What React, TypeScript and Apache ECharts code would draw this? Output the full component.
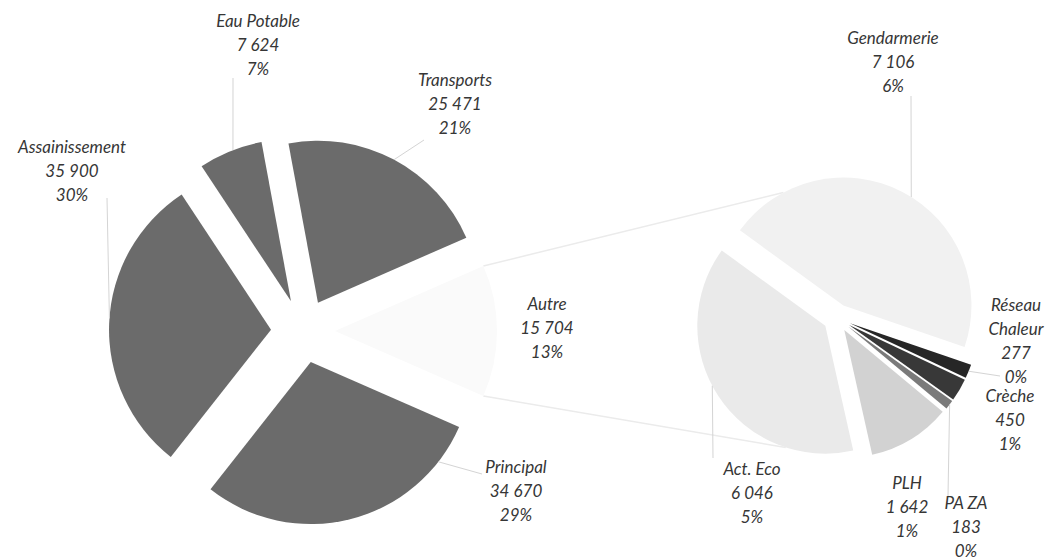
import React, { useEffect, useRef } from 'react';
import * as echarts from 'echarts';

// Main pie (clockwise from the "Autre" slice, which is centred on 3 o'clock)
const mainNames = ['Autre', 'Principal', 'Assainissement', 'Eau Potable', 'Transports'];
const mainValues = [15704, 34670, 35900, 7624, 25471];
const mainPct = [13, 29, 30, 7, 21];

// Secondary pie (breakdown of "Autre"), clockwise from Gendarmerie
const subNames = ['Gendarmerie', 'Réseau Chaleur', 'Crèche', 'PA ZA', 'PLH', 'Act. Eco'];
const subValues = [7106, 277, 450, 183, 1642, 6046];
const subPct = [6, 0, 1, 0, 1, 5];

const mainColors = ['#fafafa', '#6b6b6b', '#6b6b6b', '#6b6b6b', '#6b6b6b'];
const subColors = ['#f1f1f1', '#262626', '#383838', '#7a7a7a', '#d2d2d2', '#eaeaea'];

// label layout: centre of the text block, and where the leader meets the slice (deg, or null)
const mainLabelPos = [[547, 327], [516, 490], [72, 170], [258, 44], [455, 103]];
const mainLeader: (null | { at: number[]; angle: number })[] = [
  null,
  { at: [482, 474], angle: -38 },
  { at: [107, 198], angle: 176 },
  { at: [233, 78], angle: 111 },
  { at: [424, 140], angle: 62 },
];
const subLabelPos = [[893, 61], [1016, 340], [1010, 419], [966, 526], [907, 506], [752, 492]];
const subLeader: (null | { at: number[]; angle: number })[] = [
  { at: [911, 96], angle: 58 },
  { at: [1000, 376], angle: -22 },
  null,
  { at: [948, 496], angle: -37.5 },
  null,
  { at: [713, 458], angle: 208 },
];

const MAIN_C = [303, 331];
const MAIN_R = 162;
const MAIN_EXPLODE = 32;
const SUB_C = [837, 318];
const SUB_R = 128;
const SUB_EXPLODE = 14;
const SUB_START = 144;

const fmt = (v: number) => String(v).replace(/\B(?=(\d{3})+(?!\d))/g, ' ');

const FONT = 'italic 17px Lato, "Open Sans", sans-serif';
const LINE_H = 24;
const TEXT_COLOR = '#363636';
const LEADER_COLOR = '#d4d4d4';

// mid angle (deg, math convention) of each slice, as the pie series lays them out clockwise
function midAngles(values: number[], start: number) {
  const sum = values.reduce((a, b) => a + b, 0);
  let acc = 0;
  return values.map((v) => {
    const mid = start - ((acc + v / 2) / sum) * 360;
    acc += v;
    return mid;
  });
}

function arcPoint(c: number[], r: number, explode: number, mid: number, angle: number) {
  const m = (mid * Math.PI) / 180;
  const a = (angle * Math.PI) / 180;
  const tx = c[0] + explode * Math.cos(m);
  const ty = c[1] - explode * Math.sin(m);
  return [tx + r * Math.cos(a), ty - r * Math.sin(a)];
}

export default function App() {
  const ref = useRef<HTMLDivElement>(null);

  useEffect(() => {
    if (!ref.current) return;
    const chart = echarts.init(ref.current, undefined, { renderer: 'svg' });

    const total = mainValues.reduce((a, b) => a + b, 0);
    const autreHalf = (mainValues[0] / total) * 180;
    const mainStart = autreHalf;
    const mainMids = midAngles(mainValues, mainStart);
    const subMids = midAngles(subValues, SUB_START);

    // connector lines from the exploded "Autre" slice to the secondary pie
    const topCorner = arcPoint(MAIN_C, MAIN_R, MAIN_EXPLODE, 0, autreHalf);
    const botCorner = arcPoint(MAIN_C, MAIN_R, MAIN_EXPLODE, 0, -autreHalf);
    const subTop = arcPoint(SUB_C, SUB_R, SUB_EXPLODE, subMids[0], 118);
    const subBot = arcPoint(SUB_C, SUB_R, SUB_EXPLODE, subMids[5], 252);

    const graphics: any[] = [
      {
        type: 'line',
        z: -1,
        shape: { x1: topCorner[0], y1: topCorner[1], x2: subTop[0], y2: subTop[1] },
        style: { stroke: '#ebebeb', lineWidth: 1.5 },
      },
      {
        type: 'line',
        z: -1,
        shape: { x1: botCorner[0], y1: botCorner[1], x2: subBot[0], y2: subBot[1] },
        style: { stroke: '#ebebeb', lineWidth: 1.5 },
      },
    ];

    const addLabels = (
      names: string[],
      values: number[],
      pct: number[],
      pos: number[][],
      leaders: (null | { at: number[]; angle: number })[],
      mids: number[],
      c: number[],
      r: number,
      explode: number
    ) => {
      names.forEach((n, i) => {
        const name = n === 'Réseau Chaleur' ? 'Réseau\nChaleur' : n;
        graphics.push({
          type: 'text',
          z: 10,
          x: pos[i][0],
          y: pos[i][1],
          style: {
            text: `${name}\n${fmt(values[i])}\n${pct[i]}%`,
            font: FONT,
            lineHeight: LINE_H,
            fill: TEXT_COLOR,
            align: 'center',
            verticalAlign: 'middle',
          },
        });
        const L = leaders[i];
        if (L) {
          const p = arcPoint(c, r, explode, mids[i], L.angle);
          graphics.push({
            type: 'line',
            z: 5,
            shape: { x1: p[0], y1: p[1], x2: L.at[0], y2: L.at[1] },
            style: { stroke: LEADER_COLOR, lineWidth: 1 },
          });
        }
      });
    };

    addLabels(mainNames, mainValues, mainPct, mainLabelPos, mainLeader, mainMids, MAIN_C, MAIN_R, MAIN_EXPLODE);
    addLabels(subNames, subValues, subPct, subLabelPos, subLeader, subMids, SUB_C, SUB_R, SUB_EXPLODE);

    const mkData = (names: string[], values: number[], colors: string[]) =>
      names.map((n, i) => ({
        name: n,
        value: values[i],
        selected: true,
        itemStyle: { color: colors[i] },
      }));

    const pieCommon = {
      type: 'pie',
      clockwise: true,
      selectedMode: 'multiple',
      avoidLabelOverlap: false,
      emphasis: { disabled: true },
      label: { show: false },
      labelLine: { show: false },
      silent: true,
    };

    chart.setOption({
      animation: false,
      backgroundColor: '#ffffff',
      graphic: graphics,
      series: [
        {
          ...pieCommon,
          center: MAIN_C,
          radius: [0, MAIN_R],
          startAngle: mainStart,
          selectedOffset: MAIN_EXPLODE,
          data: mkData(mainNames, mainValues, mainColors),
        },
        {
          ...pieCommon,
          center: SUB_C,
          radius: [0, SUB_R],
          startAngle: SUB_START,
          selectedOffset: SUB_EXPLODE,
          data: mkData(subNames, subValues, subColors),
        },
      ],
    });

    return () => chart.dispose();
  }, []);

  return (
    <div
      ref={ref}
      style={{ position: 'absolute', left: 0, top: 0, width: 1056, height: 560 }}
    />
  );
}
